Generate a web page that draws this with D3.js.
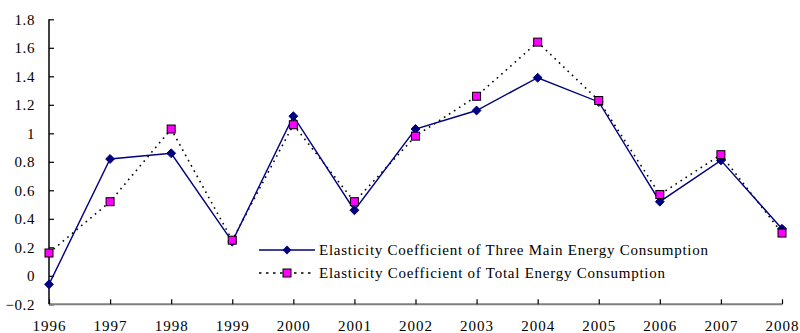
<!DOCTYPE html>
<html><head><meta charset="utf-8">
<script src="https://cdn.jsdelivr.net/npm/d3@7"></script>
<style>body{margin:0;background:#fff}svg{display:block}</style>
</head><body>
<svg id="c" width="800" height="333"></svg>
<script>
const years = ["1996","1997","1998","1999","2000","2001","2002","2003","2004","2005","2006","2007","2008"];
const threeMain = [-0.06,0.82,0.86,0.24,1.12,0.46,1.03,1.16,1.39,1.22,0.52,0.81,0.33];
const totalEnergy = [0.16,0.52,1.03,0.25,1.06,0.52,0.98,1.26,1.64,1.23,0.57,0.85,0.30];
const yTicks = [-0.2,0,0.2,0.4,0.6,0.8,1,1.2,1.4,1.6,1.8];
const seriesNames = ["Elasticity Coefficient of Three Main Energy Consumption","Elasticity Coefficient of Total Energy Consumption"];

const svg = d3.select("#c");
const font = "'Liberation Serif','Times New Roman',serif";
const x = d3.scalePoint().domain(years).range([49,782]);
const y = d3.scaleLinear().domain([-0.2,1.8]).range([304.3,19.3]);

// y axis
const ya = svg.append("g").attr("transform","translate(49,0)")
  .call(d3.axisLeft(y).tickValues(yTicks).tickSize(-5).tickPadding(14).tickFormat(d=>d3.format("")(+d.toFixed(1))));
ya.select(".domain").attr("stroke","#000").attr("stroke-width",1.5).attr("d","M0,"+y(1.8)+"V"+y(-0.2));
ya.selectAll(".tick line").attr("stroke","#000").attr("stroke-width",1.2);
ya.selectAll("text").attr("font-family",font).attr("font-size",15).attr("letter-spacing",0.6).attr("fill","#000");

// x axis
const xa = svg.append("g").attr("transform","translate(0,"+y(-0.2)+")")
  .call(d3.axisBottom(x).tickSize(-5).tickPadding(16));
xa.select(".domain").attr("stroke","#7f7f7f").attr("stroke-width",2).attr("d","M49,0H782");
xa.selectAll(".tick line").attr("stroke","#000").attr("stroke-width",1.2);
xa.selectAll("text").attr("font-family",font).attr("font-size",15).attr("letter-spacing",1).attr("fill","#000");

const line = d3.line().x((d,i)=>x(years[i])).y(d=>y(d));

// total (dotted)
svg.append("path").datum(totalEnergy).attr("d",line).attr("fill","none")
  .attr("stroke","#000").attr("stroke-width",1.6).attr("stroke-dasharray","1.6,4.4");
// three main (solid)
svg.append("path").datum(threeMain).attr("d",line).attr("fill","none")
  .attr("stroke","#000080").attr("stroke-width",1.4);

const diamond = d3.symbol().type(d3.symbolDiamond2).size(50);
svg.selectAll(".dm").data(threeMain).enter().append("path")
  .attr("transform",(d,i)=>"translate("+x(years[i])+","+y(d)+")")
  .attr("d",diamond).attr("fill","#000080").attr("stroke","#000080").attr("stroke-width",1);

svg.selectAll(".sq").data(totalEnergy).enter().append("rect")
  .attr("x",(d,i)=>x(years[i])-4).attr("y",d=>y(d)-4)
  .attr("width",8).attr("height",8).attr("fill","#ff00ff").attr("stroke","#000").attr("stroke-width",1);

// legend
const lg = svg.append("g");
const ly = [250,273];
lg.append("line").attr("x1",259).attr("x2",315).attr("y1",ly[0]).attr("y2",ly[0]).attr("stroke","#000080").attr("stroke-width",1.4);
lg.append("path").attr("transform","translate(287,"+ly[0]+")").attr("d",diamond).attr("fill","#000080");
lg.append("line").attr("x1",259).attr("x2",315).attr("y1",ly[1]).attr("y2",ly[1]).attr("stroke","#000").attr("stroke-width",1.6).attr("stroke-dasharray","2.5,4.5");
lg.append("rect").attr("x",283).attr("y",ly[1]-4).attr("width",8).attr("height",8).attr("fill","#ff00ff").attr("stroke","#000");
const legLens = [389, 346];
lg.selectAll("text").data(seriesNames).enter().append("text")
  .attr("x",319).attr("y",(d,i)=>ly[i]+5).attr("font-family",font).attr("font-size",15).attr("fill","#000")
  .attr("textLength",(d,i)=>legLens[i]).attr("lengthAdjust","spacing").text(d=>d);
</script>
</body></html>
